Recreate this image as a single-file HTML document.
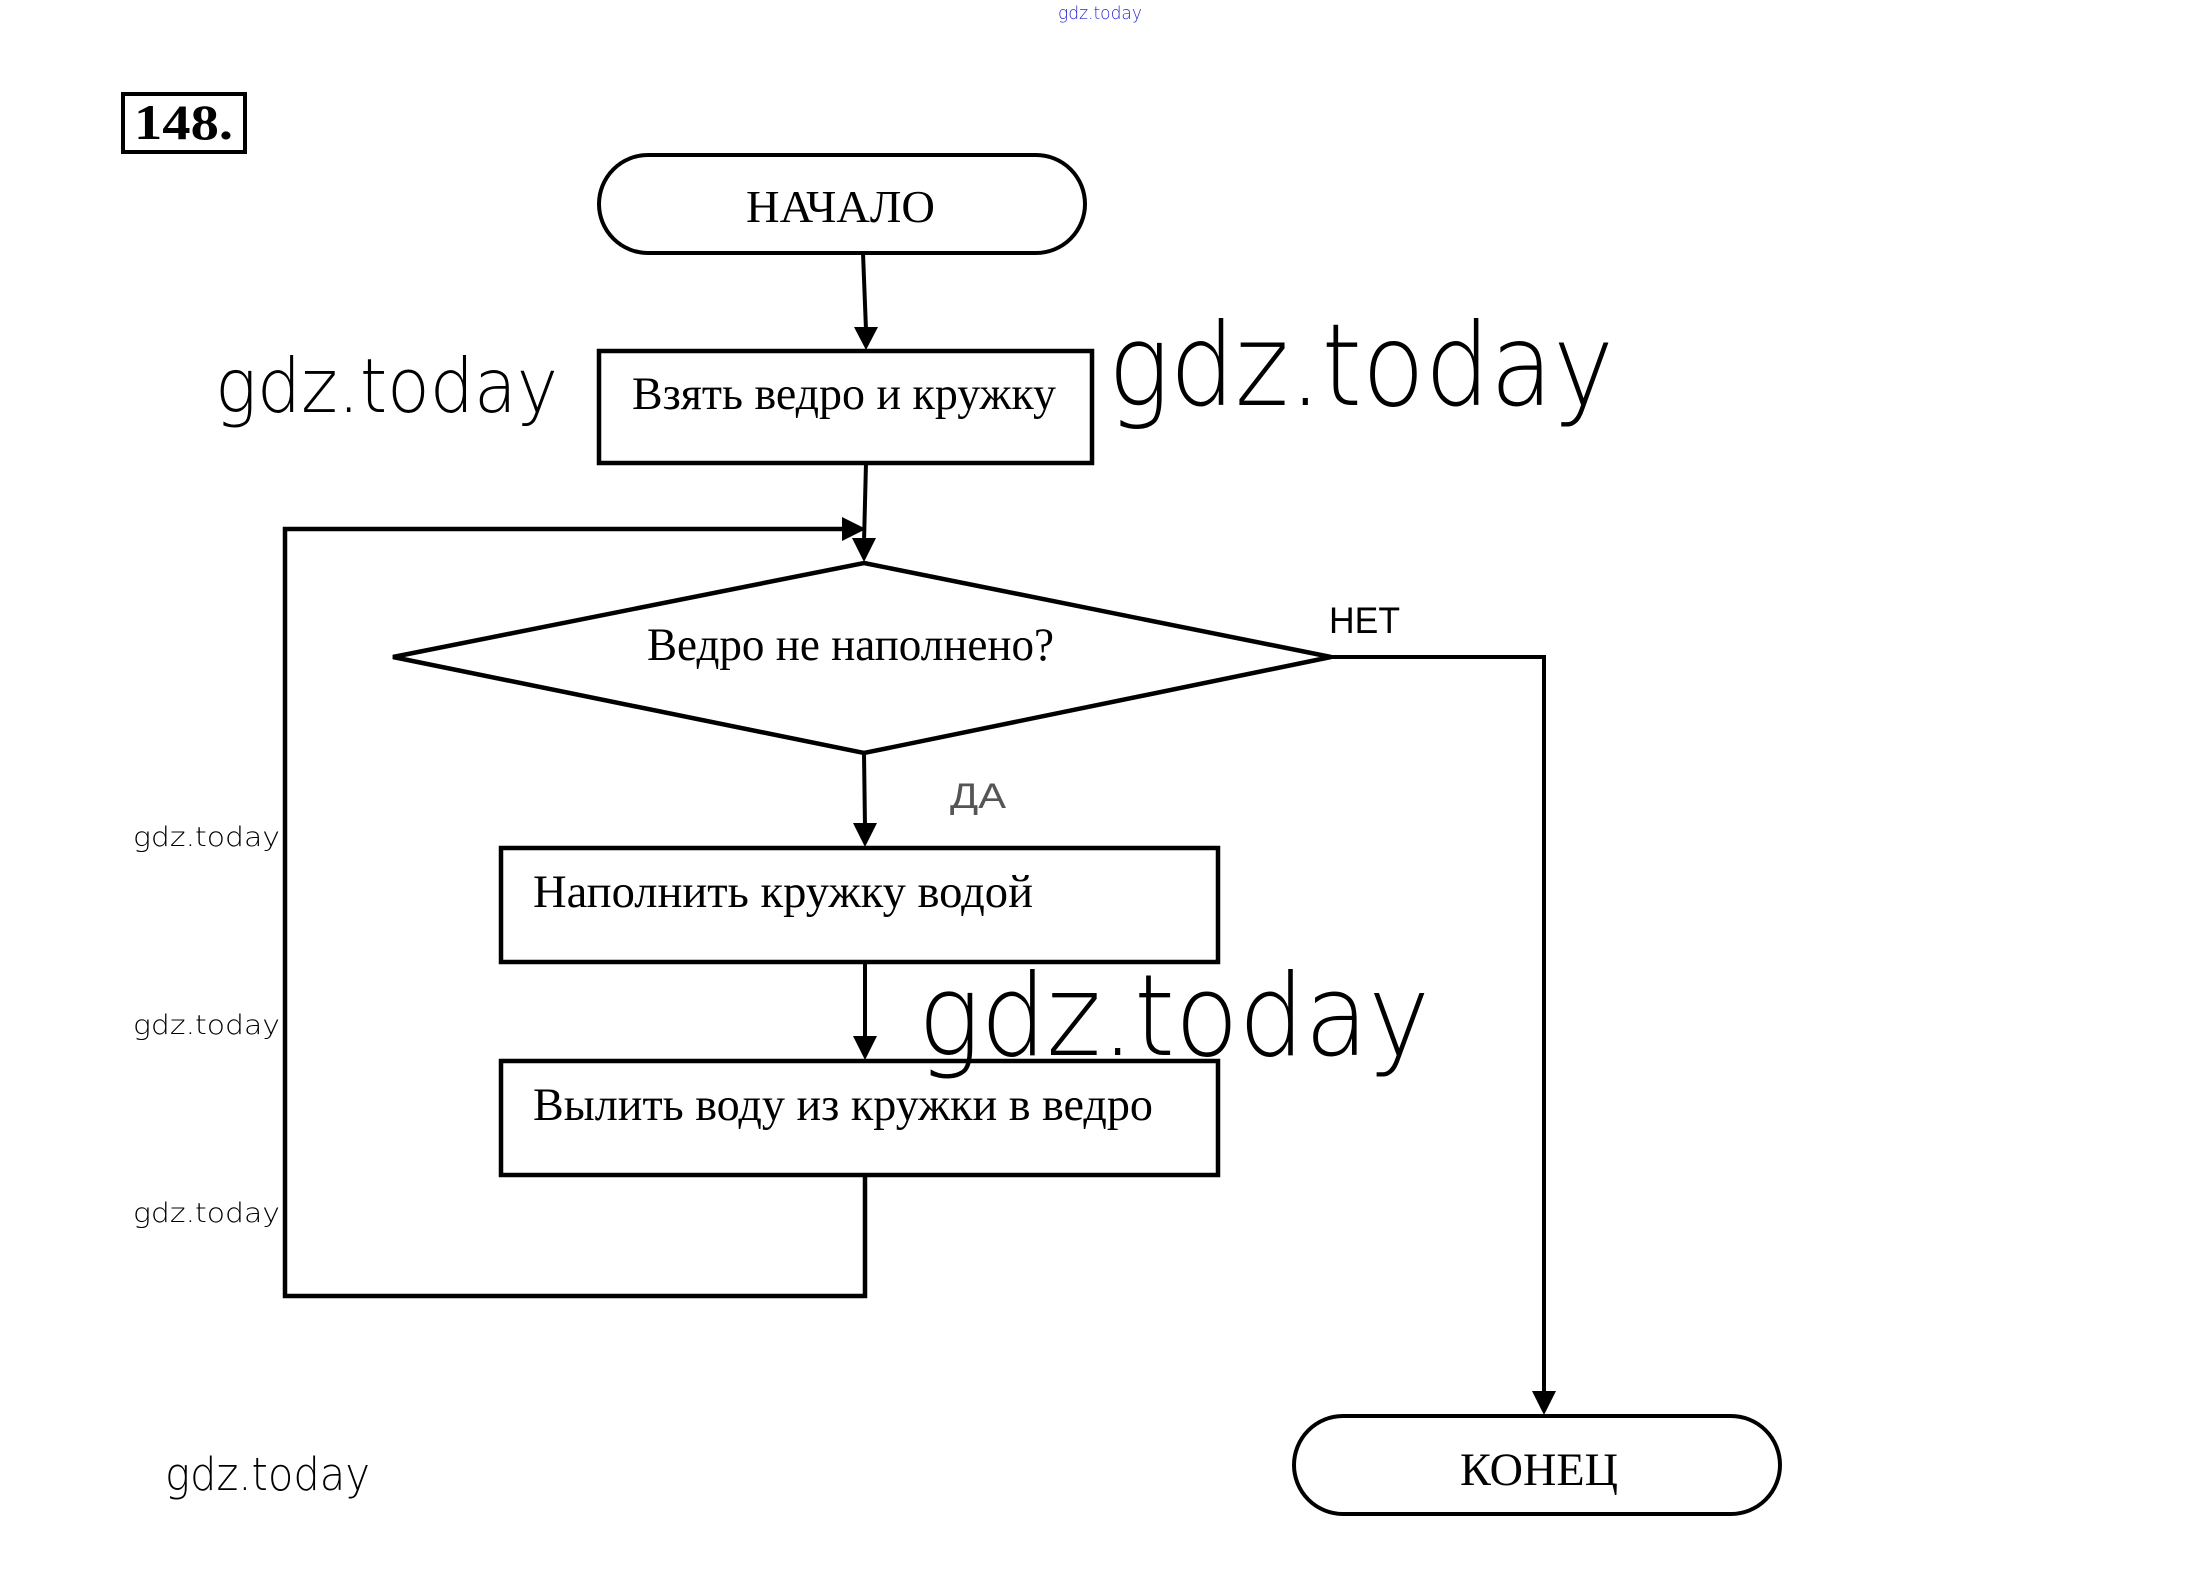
<!DOCTYPE html>
<html>
<head>
<meta charset="utf-8">
<style>
html,body{margin:0;padding:0;background:#fff;}
svg{display:block;}
.serif{font-family:"Liberation Serif","Noto Serif CJK SC",serif;fill:#000;}
.sans{font-family:"Liberation Sans","Noto Sans CJK SC",sans-serif;}
.wm{font-family:"DejaVu Sans ExtraLight","DejaVu Sans","Liberation Sans",sans-serif;font-weight:200;fill:#000;}
</style>
</head>
<body>
<svg width="2190" height="1575" viewBox="0 0 2190 1575" xmlns="http://www.w3.org/2000/svg">
<rect x="0" y="0" width="2190" height="1575" fill="#fff"/>

<!-- top blue watermark -->
<text x="1058" y="19" class="wm" style="fill:#2828d0" font-size="18" font-weight="normal" textLength="84" lengthAdjust="spacingAndGlyphs">gdz.today</text>

<!-- 148 box -->
<rect x="123" y="94" width="122" height="58" fill="none" stroke="#000" stroke-width="4"/>
<text x="134" y="139" class="serif" font-size="50" font-weight="bold" textLength="99" lengthAdjust="spacingAndGlyphs">148.</text>

<!-- НАЧАЛО -->
<rect x="599" y="155" width="486" height="98" rx="49" ry="49" fill="none" stroke="#000" stroke-width="4"/>
<text x="746" y="222" class="serif" font-size="46" textLength="189" lengthAdjust="spacingAndGlyphs">НАЧАЛО</text>

<!-- arrow 1 -->
<line x1="863" y1="253" x2="866" y2="330" stroke="#000" stroke-width="4"/>
<polygon points="854,327 878,327 866,350" fill="#000"/>

<!-- Rect A -->
<rect x="599" y="351" width="493" height="112" fill="none" stroke="#000" stroke-width="4.5"/>
<text x="632" y="409" class="serif" font-size="47" textLength="424" lengthAdjust="spacingAndGlyphs">Взять ведро и кружку</text>

<!-- arrow to diamond -->
<line x1="866" y1="463" x2="864" y2="542" stroke="#000" stroke-width="4"/>
<polygon points="852,538 876,538 864,562" fill="#000"/>

<!-- loop -->
<polyline points="865,1175 865,1296 285,1296 285,529 845,529" fill="none" stroke="#000" stroke-width="4.5"/>
<polygon points="842,517 842,541 866,529" fill="#000"/>

<!-- diamond -->
<polygon points="864,563 1331,657 864,753 393,657" fill="none" stroke="#000" stroke-width="4.5" stroke-linejoin="miter"/>
<text x="647" y="660" class="serif" font-size="47" textLength="407" lengthAdjust="spacingAndGlyphs">Ведро не наполнено?</text>

<!-- НЕТ -->
<text x="1329" y="633" class="sans" font-size="37" fill="#000" textLength="71" lengthAdjust="spacingAndGlyphs">НЕТ</text>
<polyline points="1331,657 1544,657 1544,1395" fill="none" stroke="#000" stroke-width="4"/>
<polygon points="1532,1391 1556,1391 1544,1415" fill="#000"/>

<!-- ДА -->
<text x="950" y="808" class="sans" font-size="35" fill="#555" textLength="56" lengthAdjust="spacingAndGlyphs">ДА</text>
<line x1="864" y1="753" x2="865" y2="827" stroke="#000" stroke-width="4"/>
<polygon points="853,823 877,823 865,847" fill="#000"/>

<!-- Rect B -->
<rect x="501" y="848" width="717" height="114" fill="none" stroke="#000" stroke-width="4.5"/>
<text x="533" y="907" class="serif" font-size="47" textLength="500" lengthAdjust="spacingAndGlyphs">Наполнить кружку водой</text>

<line x1="865" y1="962" x2="865" y2="1040" stroke="#000" stroke-width="4"/>
<polygon points="853,1036 877,1036 865,1060" fill="#000"/>

<!-- Rect C -->
<rect x="501" y="1061" width="717" height="114" fill="none" stroke="#000" stroke-width="4.5"/>
<text x="533" y="1120" class="serif" font-size="47" textLength="620" lengthAdjust="spacingAndGlyphs">Вылить воду из кружки в ведро</text>

<!-- КОНЕЦ -->
<rect x="1294" y="1416" width="486" height="98" rx="49" ry="49" fill="none" stroke="#000" stroke-width="4"/>
<text x="1460" y="1485" class="serif" font-size="47" textLength="158" lengthAdjust="spacingAndGlyphs">КОНЕЦ</text>

<!-- watermarks -->
<text x="215" y="412" class="wm" font-size="75" textLength="343" lengthAdjust="spacingAndGlyphs">gdz.today</text>
<text x="1108" y="405" class="wm" font-size="114" textLength="506" lengthAdjust="spacingAndGlyphs">gdz.today</text>
<text x="918" y="1055" class="wm" font-size="113" textLength="512" lengthAdjust="spacingAndGlyphs">gdz.today</text>
<text x="133" y="846" class="wm" font-size="27" textLength="147" lengthAdjust="spacingAndGlyphs">gdz.today</text>
<text x="133" y="1034" class="wm" font-size="27" textLength="147" lengthAdjust="spacingAndGlyphs">gdz.today</text>
<text x="133" y="1222" class="wm" font-size="27" textLength="147" lengthAdjust="spacingAndGlyphs">gdz.today</text>
<text x="165" y="1490" class="wm" font-size="45" textLength="205" lengthAdjust="spacingAndGlyphs">gdz.today</text>
</svg>
</body>
</html>
